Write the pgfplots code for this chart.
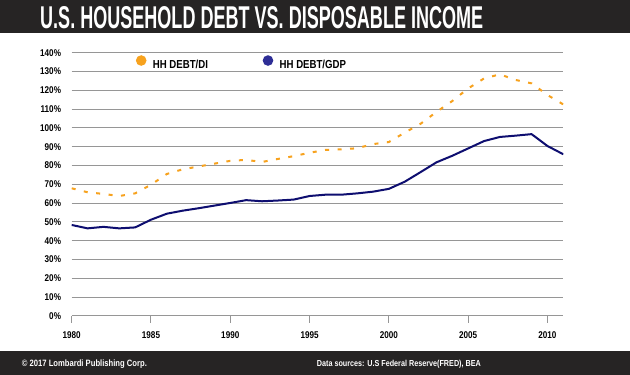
\documentclass[border=0pt]{standalone}
\usepackage{fontspec}
\setmainfont{Liberation Sans}[FakeStretch=0.83]
\usepackage{pgfplots}
\pgfplotsset{compat=1.18}
\definecolor{barc}{RGB}{38,36,36}
\definecolor{orangeL}{RGB}{247,162,30}
\definecolor{navyL}{RGB}{14,14,112}
\definecolor{navyDot}{RGB}{46,46,150}
\definecolor{gridc}{RGB}{150,150,150}
\begin{document}
\begin{tikzpicture}[x=1pt,y=1pt]
\path[use as bounding box, fill=white] (0,0) rectangle (630,375);
\fill[barc] (0,341.7) rectangle (630,375);
\fill[barc] (0,0) rectangle (630,24.3);
\node[anchor=base west, inner sep=0pt, text=white] at (40,346.7) {\resizebox{443pt}{22pt}{\bfseries U.S. HOUSEHOLD DEBT VS. DISPOSABLE INCOME}};
\node[anchor=base west, inner sep=0pt, text=white] at (21.7,8.3) {\resizebox{125pt}{!}{\fontsize{9.3}{11}\selectfont\bfseries © 2017 Lombardi Publishing Corp.}};
\node[anchor=base west, inner sep=0pt, text=white] at (316.7,8.3) {\resizebox{164pt}{!}{\fontsize{9.3}{11}\selectfont\bfseries Data sources: U.S Federal Reserve(FRED), BEA}};
\begin{axis}[
  at={(71.7pt,59pt)}, anchor=south west,
  scale only axis, width=491.6pt, height=263.3pt,
  xmin=1980, xmax=2011, ymin=0, ymax=140,
  xtick={1980,1985,...,2010}, ytick={0,10,...,140},
  /pgf/number format/assume math mode=true,
  /pgf/number format/1000 sep={},
  yticklabel={\pgfmathprintnumber{\tick}\%},
  tick label style={font=\fontsize{9.8}{11}\selectfont\bfseries, text=black},
  yticklabel style={anchor=east, inner sep=0pt, xshift=-10.5pt},
  xticklabel style={anchor=north, inner sep=0pt, yshift=-15.3pt},
  ymajorgrids, grid style={gridc, line width=1pt},
  axis line style={draw=none},
  xtick pos=bottom, tick align=inside, major tick length=7pt,
  xtick style={gridc, line width=1pt, yshift=-7pt},
  ytick style={draw=none},
  legend columns=2,
  legend cell align=left,
  legend style={at={(0.1302,0.963)}, anchor=west, draw=none, fill=none, inner sep=0pt,
    font=\fontsize{11.6}{13}\selectfont\bfseries,
    nodes={inner sep=0pt}, column sep=6.4pt,
    /tikz/every even column/.append style={column sep=54.7pt}},
]
\addplot[orangeL, line width=2pt, dash pattern=on 4pt off 8.5pt,
  legend image code/.code={\path[fill=orangeL, draw=none] (0,4.2pt) circle (5.3pt);}]
coordinates {
(1980,67.9) (1981,65.8) (1982,64.9) (1983,63.8) (1984,65.2) (1985,69.8)
(1986,75.5) (1987,78.0) (1988,79.5) (1989,81.0) (1990,82.5) (1991,83.0)
(1992,81.9) (1993,83.5) (1994,85.0) (1995,86.8) (1996,88.3) (1997,88.6)
(1998,89.2) (1999,91.4) (2000,92.5) (2001,97.5) (2002,102.2) (2003,108.5)
(2004,114.3) (2005,121.0) (2006,126.3) (2007,128.5) (2008,125.5) (2009,123.7)
(2010,117.5) (2011,112.5)
};
\addlegendentry{HH DEBT/DI}
\addplot[navyL, line width=2pt, line join=round,
  legend image code/.code={\path[fill=navyDot, draw=none] (0,4.2pt) circle (5.3pt);}]
coordinates {
(1980,48.4) (1981,46.6) (1982,47.4) (1983,46.6) (1984,47.1) (1985,51.2)
(1986,54.4) (1987,56.0) (1988,57.3) (1989,58.7) (1990,60.1) (1991,61.6)
(1992,61.0) (1993,61.4) (1994,61.9) (1995,63.8) (1996,64.5) (1997,64.5)
(1998,65.2) (1999,66.1) (2000,67.6) (2001,71.4) (2002,76.5) (2003,81.7)
(2004,85.2) (2005,89.1) (2006,93.0) (2007,95.2) (2008,95.9) (2009,96.7)
(2010,90.4) (2011,86.0)
};
\addlegendentry{HH DEBT/GDP}
\end{axis}
\end{tikzpicture}
\end{document}
